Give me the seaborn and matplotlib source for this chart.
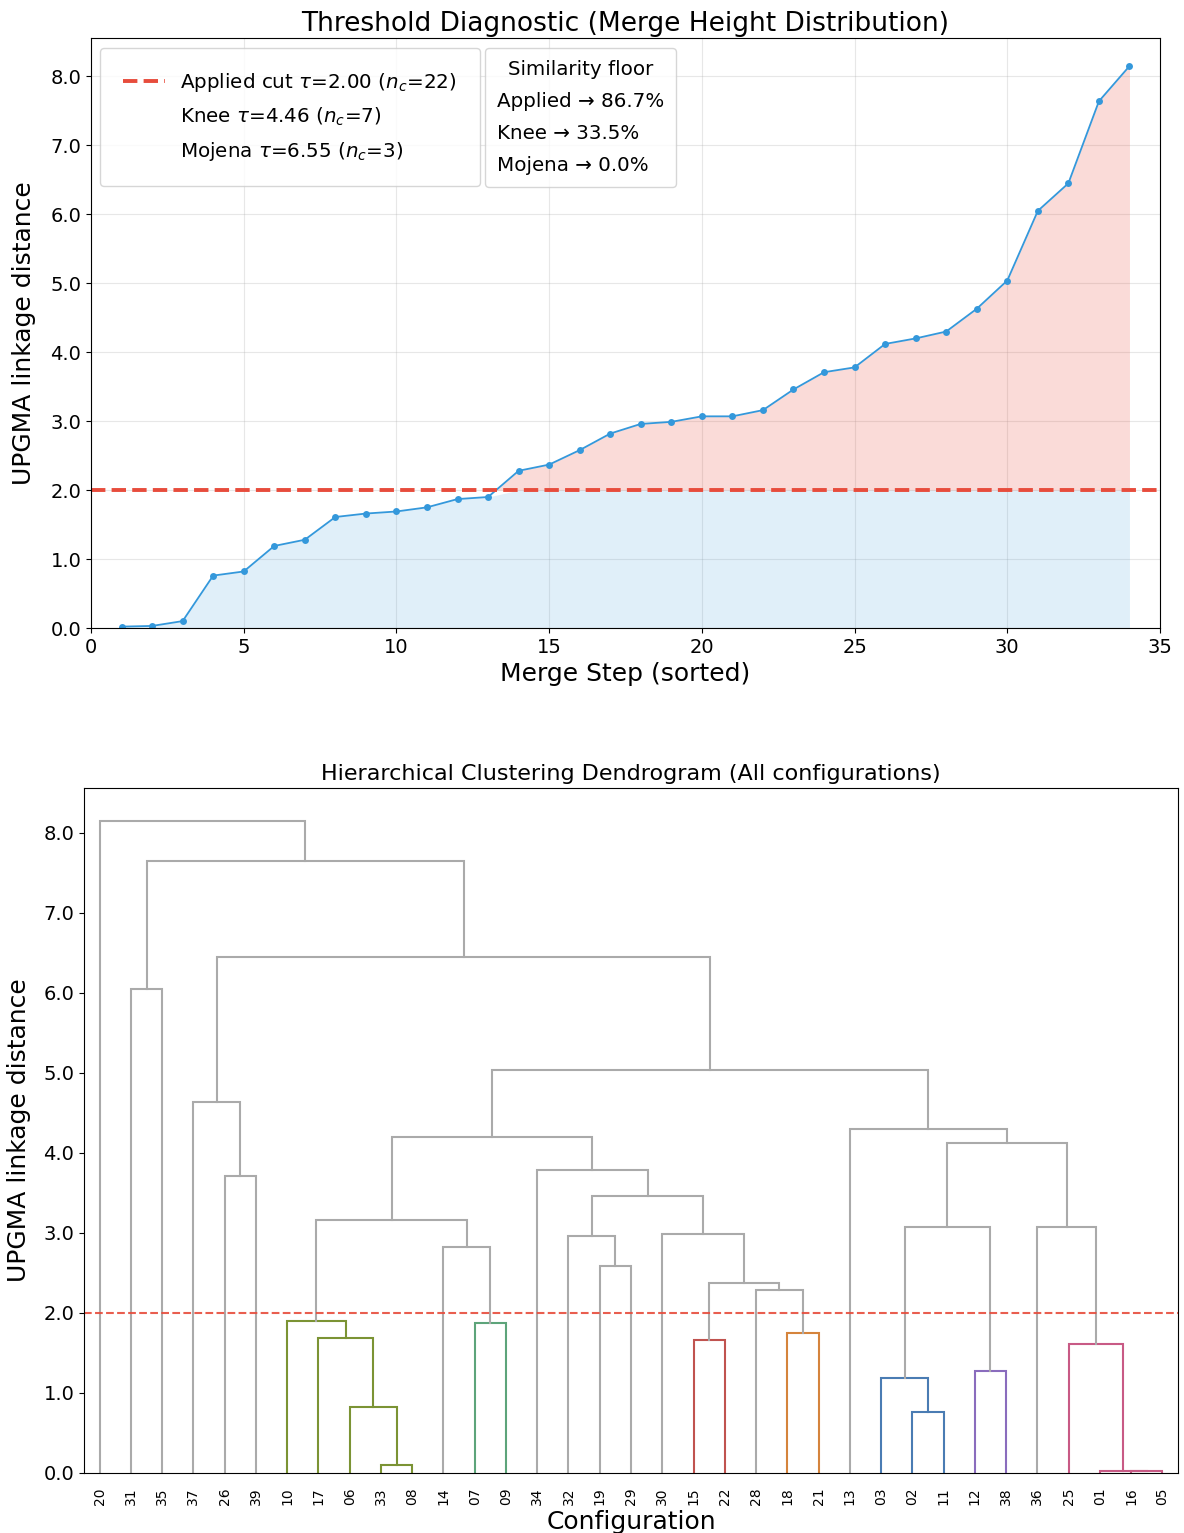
import numpy as np
import matplotlib
matplotlib.use("Agg")
import matplotlib.pyplot as plt
from matplotlib.lines import Line2D
from matplotlib.ticker import FormatStrFormatter
import seaborn as sns

# ---------------- data ----------------
leaf_order = ["20", "31", "35", "37", "26", "39", "10", "17", "06", "33", "08",
              "14", "07", "09", "34", "32", "19", "29", "30", "15", "22", "28",
              "18", "21", "13", "03", "02", "11", "12", "38", "36", "25", "01",
              "16", "05"]

# merges: children are leaf labels or earlier merge ids "mK"
merge_left = ["16", "01", "33", "02", "06", "03", "12", "25", "15", "17", "18",
              "07", "10", "28", "m8", "19", "14", "32", "30", "m5", "36", "m12",
              "m17", "26", "34", "m19", "m21", "13", "37", "m26", "31", "m28",
              "m30", "20"]
merge_right = ["05", "m0", "08", "11", "m2", "m3", "38", "m1", "22", "m4", "21",
               "09", "m9", "m10", "m13", "29", "m11", "m15", "m14", "m6", "m7",
               "m16", "m18", "39", "m22", "m20", "m24", "m25", "m23", "m27",
               "35", "m29", "m31", "m32"]
merge_height = [0.02, 0.03, 0.10, 0.76, 0.82, 1.19, 1.28, 1.61, 1.66, 1.69,
                1.75, 1.87, 1.90, 2.28, 2.37, 2.58, 2.82, 2.96, 2.99, 3.07,
                3.07, 3.16, 3.46, 3.71, 3.78, 4.12, 4.20, 4.30, 4.63, 5.04,
                6.05, 6.45, 7.64, 8.15]

threshold = 2.0
cluster_colors = ["#7b9334", "#5da47a", "#c0534f", "#d5843c", "#4a7cb3",
                  "#8a6cbd", "#c85a85"]
gray_link = "#aaaaaa"

legend_main = [r"Applied cut $\tau$=2.00 ($n_c$=22)",
               r"Knee $\tau$=4.46 ($n_c$=7)",
               r"Mojena $\tau$=6.55 ($n_c$=3)"]
legend_floor_title = "Similarity floor"
legend_floor = ["Applied \u2192 86.7%", "Knee \u2192 33.5%", "Mojena \u2192 0.0%"]

# ---------------- figure ----------------
W, H = 1184, 1533
fig = plt.figure(figsize=(W / 100, H / 100), dpi=100)
ax1 = fig.add_axes([91 / W, 1 - 628 / H, (1160 - 91) / W, (628 - 38) / H])
ax2 = fig.add_axes([84 / W, 1 - 1473 / H, (1178 - 84) / W, (1473 - 788) / H])

# ---------- top: merge height distribution ----------
heights_sorted = np.sort(np.array(merge_height))
steps = np.arange(1, len(heights_sorted) + 1)
ymax = heights_sorted.max() * 1.05

ax1.fill_between(steps, 0, np.minimum(heights_sorted, threshold),
                 color="#3498db", alpha=0.15, lw=0)
ax1.fill_between(steps, threshold, heights_sorted, where=heights_sorted > threshold,
                 interpolate=True, color="#e74c3c", alpha=0.2, lw=0)
sns.lineplot(x=steps, y=heights_sorted, ax=ax1, color="#3498db", lw=1.3,
             marker="o", markersize=5, markeredgewidth=0)
ax1.axhline(threshold, color="#e74c3c", ls="--", lw=2.8)

ax1.set_xlim(0, 35)
ax1.set_ylim(0, ymax)
ax1.set_xticks(np.arange(0, 36, 5))
ax1.set_yticks(np.arange(0, 9, 1.0))
ax1.yaxis.set_major_formatter(FormatStrFormatter("%.1f"))
ax1.tick_params(labelsize=14)
ax1.grid(True, color="#b0b0b0", alpha=0.3)
ax1.set_axisbelow(True)
ax1.set_title("Threshold Diagnostic (Merge Height Distribution)", fontsize=19, pad=5)
ax1.set_xlabel("Merge Step (sorted)", fontsize=18)
ax1.set_ylabel("UPGMA linkage distance", fontsize=18, labelpad=10)

fs = 14.3
h1 = [Line2D([], [], color="#e74c3c", ls="--", lw=2.8),
      Line2D([], [], color="none"), Line2D([], [], color="none")]
leg1 = ax1.legend(h1, legend_main, loc="upper left", fontsize=fs,
                  bbox_to_anchor=((100 - 91) / 1069, (628 - 48) / 590),
                  borderaxespad=0, borderpad=1.15, labelspacing=0.6,
                  handlelength=2.1, handletextpad=0.8)
ax1.add_artist(leg1)
h2 = [Line2D([], [], color="none") for _ in legend_floor]
leg2 = ax1.legend(h2, legend_floor, title=legend_floor_title, title_fontsize=fs,
                  fontsize=fs, loc="upper left",
                  bbox_to_anchor=((485 - 91) / 1069, (628 - 48) / 590),
                  borderaxespad=0, borderpad=0.6, labelspacing=0.65,
                  handlelength=0, handletextpad=0)

# ---------- bottom: dendrogram ----------
pos = {lab: 5 + 10 * i for i, lab in enumerate(leaf_order)}
hgt = {lab: 0.0 for lab in leaf_order}
leaves_of = {lab: [i] for i, lab in enumerate(leaf_order)}
for k, (l, r, h) in enumerate(zip(merge_left, merge_right, merge_height)):
    mid = f"m{k}"
    pos[mid] = (pos[l] + pos[r]) / 2
    hgt[mid] = h
    leaves_of[mid] = leaves_of[l] + leaves_of[r]

# cluster roots: merges below threshold whose parent is above threshold
parent = {}
for k, (l, r) in enumerate(zip(merge_left, merge_right)):
    parent[l] = f"m{k}"
    parent[r] = f"m{k}"
roots = [f"m{k}" for k, h in enumerate(merge_height)
         if h < threshold and merge_height[int(parent[f"m{k}"][1:])] >= threshold]
roots.sort(key=lambda m: min(leaves_of[m]))
root_color = {m: cluster_colors[i % len(cluster_colors)] for i, m in enumerate(roots)}


def link_color(mid):
    node = mid
    while node in parent and hgt[parent[node]] < threshold:
        node = parent[node]
    return root_color.get(node, gray_link) if hgt[mid] < threshold else gray_link


for k, (l, r, h) in enumerate(zip(merge_left, merge_right, merge_height)):
    c = link_color(f"m{k}")
    ax2.plot([pos[l], pos[l], pos[r], pos[r]], [hgt[l], h, h, hgt[r]],
             color=c, lw=1.5, solid_joinstyle="miter")

ax2.axhline(threshold, color="#e74c3c", ls="--", lw=1.5, alpha=0.9)
ax2.set_xlim(0, 10 * len(leaf_order))
ax2.set_ylim(0, ymax)
ax2.set_xticks([pos[lab] for lab in leaf_order])
ax2.set_xticklabels(leaf_order, rotation=90, fontsize=10)
for t in ax2.get_xticklines():
    t.set_visible(False)
ax2.set_yticks(np.arange(0, 9, 1.0))
ax2.yaxis.set_major_formatter(FormatStrFormatter("%.1f"))
ax2.tick_params(axis="y", labelsize=14)
ax2.tick_params(axis="x", pad=7)
ax2.set_title("Hierarchical Clustering Dendrogram (All configurations)", fontsize=16)
ax2.set_xlabel("Configuration", fontsize=18, labelpad=3)
ax2.set_ylabel("UPGMA linkage distance", fontsize=18, labelpad=9)

fig.savefig("out.png", dpi=100)
